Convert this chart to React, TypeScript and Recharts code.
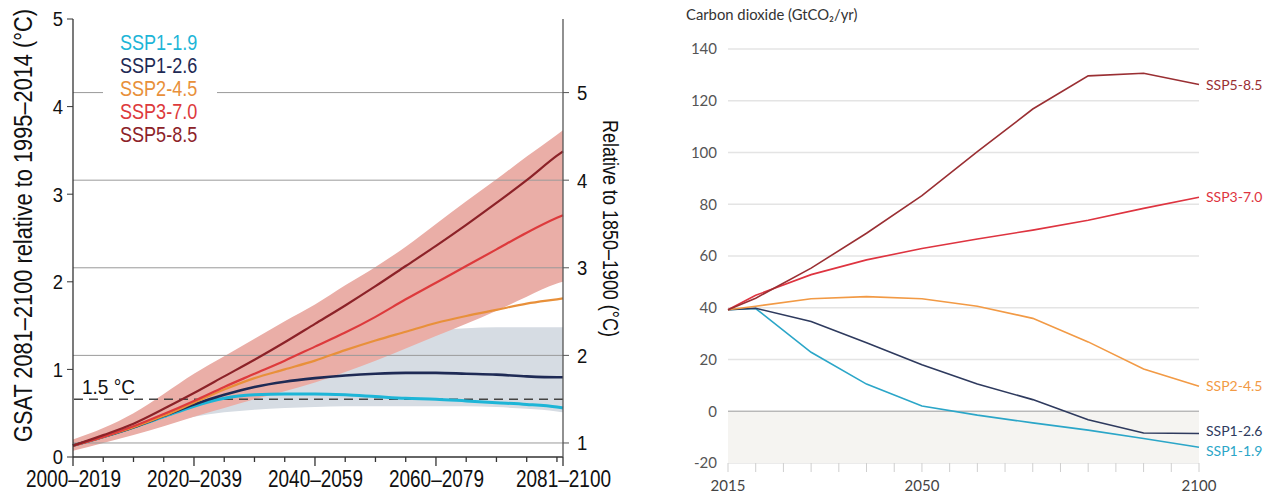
import React from 'react';
import {
  ComposedChart, LineChart, Line, Area, XAxis, YAxis, ReferenceLine,
  ReferenceArea, Legend, Label, LabelList, CartesianGrid,
} from 'recharts';

// ---- left panel: GSAT change (relative to 1995–2014) ----
const gsatYears = [2010, 2015, 2020, 2025, 2030, 2035, 2040, 2045, 2050, 2055, 2060, 2065, 2070, 2075, 2080, 2085, 2090, 2091];
const ssp119Gsat = [0.13, 0.23, 0.34, 0.46, 0.58, 0.67, 0.71, 0.72, 0.72, 0.71, 0.69, 0.67, 0.66, 0.64, 0.62, 0.6, 0.57, 0.56];
const ssp126Gsat = [0.13, 0.23, 0.34, 0.47, 0.6, 0.71, 0.8, 0.86, 0.9, 0.93, 0.95, 0.96, 0.96, 0.95, 0.94, 0.92, 0.91, 0.91];
const ssp245Gsat = [0.13, 0.23, 0.34, 0.47, 0.62, 0.77, 0.9, 1.0, 1.1, 1.22, 1.33, 1.43, 1.53, 1.61, 1.68, 1.75, 1.8, 1.81];
const ssp370Gsat = [0.13, 0.23, 0.35, 0.49, 0.64, 0.8, 0.95, 1.1, 1.26, 1.42, 1.6, 1.8, 1.99, 2.18, 2.37, 2.56, 2.73, 2.76];
const ssp585Gsat = [0.13, 0.25, 0.38, 0.55, 0.73, 0.92, 1.11, 1.31, 1.52, 1.73, 1.95, 2.18, 2.41, 2.65, 2.9, 3.16, 3.44, 3.49];
const ssp126Low = [0.1, 0.18, 0.27, 0.38, 0.46, 0.51, 0.54, 0.56, 0.57, 0.58, 0.58, 0.58, 0.58, 0.58, 0.57, 0.55, 0.52, 0.51];
const ssp126High = [0.17, 0.3, 0.45, 0.6, 0.75, 0.9, 1.03, 1.13, 1.22, 1.3, 1.36, 1.41, 1.45, 1.47, 1.48, 1.48, 1.48, 1.48];
const ssp370Low = [0.07, 0.16, 0.25, 0.35, 0.46, 0.56, 0.66, 0.75, 0.85, 0.97, 1.1, 1.24, 1.38, 1.52, 1.67, 1.83, 1.98, 2.0];
const ssp370High = [0.2, 0.33, 0.5, 0.72, 0.95, 1.15, 1.35, 1.55, 1.74, 1.96, 2.17, 2.4, 2.66, 2.92, 3.17, 3.43, 3.68, 3.73];

const gsatMinorTicks = [2010, 2015, 2020, 2025, 2030, 2035, 2040, 2045, 2050, 2055, 2060, 2065, 2070, 2075, 2080, 2085, 2090, 2091];
const gsatPeriodTicks = [2010, 2030, 2050, 2070, 2091];
const gsatPeriodLabels = ['2000–2019', '2020–2039', '2040–2059', '2060–2079', '2081–2100'];
const leftTicks = [0, 1, 2, 3, 4, 5];
const rightTicks = [1, 2, 3, 4, 5];

const scenarioNames = ['SSP1-1.9', 'SSP1-2.6', 'SSP2-4.5', 'SSP3-7.0', 'SSP5-8.5'];
const gsatColors = ['#1db5d7', '#1e2a55', '#e8903a', '#dd3a3c', '#8c2228'];

// ---- right panel: CO2 emissions ----
const co2Years = [2015, 2020, 2030, 2040, 2050, 2060, 2070, 2080, 2090, 2100];
const co2Ssp119 = [39.2, 39.7, 22.8, 10.5, 2.0, -1.5, -4.5, -7.3, -10.5, -13.9];
const co2Ssp126 = [39.2, 39.8, 34.7, 26.5, 18.0, 10.5, 4.5, -3.3, -8.4, -8.6];
const co2Ssp245 = [39.2, 40.6, 43.5, 44.3, 43.5, 40.6, 35.9, 26.8, 16.3, 9.7];
const co2Ssp370 = [39.2, 44.8, 52.8, 58.5, 62.9, 66.6, 70.0, 73.8, 78.4, 82.7];
const co2Ssp585 = [39.2, 43.7, 55.3, 68.8, 83.3, 100.3, 116.8, 129.6, 130.6, 126.3];
const co2Colors = ['#2ba6c8', '#2e3a5e', '#f29a45', '#de3440', '#9a2f33'];
const co2LabelNudge = [4, -2, 0, 0, 1];
const co2YTicks = [-20, 0, 20, 40, 60, 80, 100, 120, 140];
const co2XTicks = [2015, 2020, 2025, 2030, 2035, 2040, 2045, 2050, 2055, 2060, 2065, 2070, 2075, 2080, 2085, 2090, 2095, 2100];
const co2XLabels = [2015, 2050, 2100];

// no condensed face is installed, so the narrow look comes from textLength / scaleX
const sans = "'Liberation Sans', Arial, sans-serif";
const lato = "Lato, 'Noto Sans', sans-serif";

const gsatKeys = ['ssp119', 'ssp126', 'ssp245', 'ssp370', 'ssp585'];
const gsatSeries = [ssp119Gsat, ssp126Gsat, ssp245Gsat, ssp370Gsat, ssp585Gsat];
const gsatData = gsatYears.map((year, i) => {
  const row: any = { year, range126: [ssp126Low[i], ssp126High[i]], range370: [ssp370Low[i], ssp370High[i]] };
  gsatKeys.forEach((k, j) => { row[k] = gsatSeries[j][i]; });
  return row;
});

const co2Series = [co2Ssp119, co2Ssp126, co2Ssp245, co2Ssp370, co2Ssp585];
const co2Data = co2Years.map((year, i) => {
  const row: any = { year };
  gsatKeys.forEach((k, j) => { row[k] = co2Series[j][i]; });
  return row;
});

const GsatTick = (props: any) => {
  const { x, y, payload } = props;
  const idx = gsatPeriodTicks.indexOf(payload.value);
  const major = idx >= 0;
  return (
    <g>
      <line x1={x} x2={x} y1={y} y2={y + (major ? 9 : 5)} stroke="#333" strokeWidth={1.3} />
      {major && (
        <text x={x - 47} y={y + 30} textLength={95} lengthAdjust="spacingAndGlyphs" fontSize={23}
          fontFamily={sans} fill="#111">
          {gsatPeriodLabels[idx]}
        </text>
      )}
    </g>
  );
};

const GsatYTick = (props: any) => {
  const { x, y, payload, textAnchor } = props;
  return (
    <text x={x} y={y} dy="0.35em" textAnchor={textAnchor} fontSize={21} fontFamily={sans} fill="#111"
      transform={`translate(${x} 0) scale(0.88 1) translate(${-x} 0)`}>
      {payload.value}
    </text>
  );
};

const Co2Tick = (props: any) => {
  const { x, y, payload } = props;
  const show = co2XLabels.includes(payload.value);
  return (
    <g>
      <line x1={x} x2={x} y1={y} y2={y + 9} stroke="#cfcfcf" strokeWidth={1} />
      {show && (
        <text x={x} y={y + 28} textAnchor="middle" fontSize={15} fontFamily={lato} fill="#444">
          {payload.value}
        </text>
      )}
    </g>
  );
};

const GsatLegend = () => (
  <div style={{ background: '#fff', width: 114, height: 116, fontFamily: sans, fontSize: 22, lineHeight: '23px', textAlign: 'left' }}>
    <div style={{ paddingLeft: 17, paddingTop: 1, transform: 'scaleX(0.82)', transformOrigin: '17px 0' }}>
      {scenarioNames.map((name, i) => (
        <div key={name} style={{ color: gsatColors[i], whiteSpace: 'nowrap' }}>{name}</div>
      ))}
    </div>
  </div>
);

const GsatPanel = () => (
  <ComposedChart width={640} height={493} data={gsatData} margin={{ top: 19, right: 0, bottom: 0, left: 0 }}>
    <XAxis dataKey="year" type="number" domain={[2010, 2091]} ticks={gsatMinorTicks} interval={0}
      tick={<GsatTick />} tickLine={false} tickSize={0} tickMargin={0} height={36}
      axisLine={{ stroke: '#333', strokeWidth: 1.3 }} />
    <YAxis yAxisId="left" domain={[0, 5]} ticks={leftTicks} width={73} tickSize={6} tickMargin={4}
      axisLine={{ stroke: '#333', strokeWidth: 1.3 }} tickLine={{ stroke: '#333' }}
      tick={<GsatYTick />}>
      <Label content={(p: any) => {
        const vb = p.viewBox;
        const cx = vb.x + 23;
        const cy = vb.y + vb.height / 2 - 12;
        return (
          <text x={cx - 216} y={cy} dy="0.35em" textLength={433} lengthAdjust="spacingAndGlyphs" fontSize={26}
            fontFamily={sans} fill="#111" transform={`rotate(-90 ${cx} ${cy})`}>
            GSAT 2081–2100 relative to 1995–2014 (°C)
          </text>
        );
      }} />
    </YAxis>
    <YAxis yAxisId="right" orientation="right" domain={[0.84, 5.84]} ticks={rightTicks} allowDataOverflow
      width={77} tickSize={6} tickMargin={8} axisLine={{ stroke: '#555', strokeWidth: 1.3 }} tickLine={{ stroke: '#555' }}
      tick={<GsatYTick />}>
      <Label content={(p: any) => {
        const vb = p.viewBox;
        const cx = vb.x + 48;
        const cy = vb.y + vb.height / 2 - 10;
        return (
          <text x={cx - 108} y={cy} dy="0.35em" textLength={217} lengthAdjust="spacingAndGlyphs" fontSize={22}
            fontFamily={sans} fill="#111" transform={`rotate(90 ${cx} ${cy})`}>
            Relative to 1850–1900 (°C)
          </text>
        );
      }} />
    </YAxis>
    <Legend layout="horizontal" verticalAlign="middle" align="center" content={<GsatLegend />}
      wrapperStyle={{ top: 30, left: 103, width: 114 }} />
    <Area yAxisId="left" dataKey="range126" type="monotone" stroke="none" fill="#d6dce3" fillOpacity={1} isAnimationActive={false} legendType="none" />
    <Area yAxisId="left" dataKey="range370" type="monotone" stroke="none" fill="#eaaea7" fillOpacity={1} isAnimationActive={false} legendType="none" />
    {rightTicks.map((t) => (
      <ReferenceLine key={t} yAxisId="right" y={t} stroke="#9a9a9a" strokeWidth={1} />
    ))}
    <ReferenceLine yAxisId="right" y={1.5} stroke="#444" strokeWidth={1.6} strokeDasharray="9 6">
      <Label content={(p: any) => {
        const vb = p.viewBox;
        return (
          <text x={vb.x + 9} y={vb.y - 5} textLength={53} lengthAdjust="spacingAndGlyphs" fontSize={21}
            fontFamily={sans} fill="#111">1.5 °C</text>
        );
      }} />
    </ReferenceLine>
    {gsatKeys.map((k, i) => (
      <Line key={k} yAxisId="left" dataKey={k} name={scenarioNames[i]} type="monotone" dot={false}
        stroke={gsatColors[i]} strokeWidth={i === 0 ? 3 : i === 1 ? 2.6 : 2.2} isAnimationActive={false} />
    ))}
  </ComposedChart>
);

const Co2Panel = () => (
  <LineChart width={624} height={493} data={co2Data} margin={{ top: 49, right: 65, bottom: 0, left: 0 }}>
    <ReferenceArea y1={-20} y2={0} fill="#f5f4f1" fillOpacity={1} stroke="none" />
    <CartesianGrid vertical={false} stroke="#e4e4e4" strokeWidth={1.5} />
    <ReferenceLine y={0} stroke="#a6a6a6" strokeWidth={1.2} />
    <XAxis dataKey="year" type="number" domain={[2015, 2100]} ticks={co2XTicks} interval={0}
      tick={<Co2Tick />} tickLine={false} axisLine={false} tickSize={0} tickMargin={0} height={30} />
    <YAxis domain={[-20, 140]} ticks={co2YTicks} width={88} axisLine={false} tickLine={false}
      tickSize={0} tickMargin={11} tick={{ fontSize: 15, fontFamily: lato, fill: '#555' }} />
    {gsatKeys.map((k, i) => (
      <Line key={k} dataKey={k} type="linear" dot={false} stroke={co2Colors[i]} strokeWidth={1.6}
        isAnimationActive={false}>
        <LabelList dataKey={k} content={(p: any) => (
          p.index === co2Years.length - 1 ? (
            <text x={p.x + 7} y={p.y + co2LabelNudge[i]} dy="0.35em" fontSize={14} fontFamily={lato} fill={co2Colors[i]}>
              {scenarioNames[i]}
            </text>
          ) : null
        )} />
      </Line>
    ))}
  </LineChart>
);

export default function App() {
  return (
    <div style={{ position: 'absolute', left: 0, top: 0, width: 1264, height: 493, background: '#fff' }}>
      <div style={{ position: 'absolute', left: 0, top: 0 }}>
        <GsatPanel />
      </div>
      <div style={{ position: 'absolute', left: 640, top: 0 }}>
        <div style={{ position: 'absolute', left: 46, top: 5, fontFamily: lato, fontSize: 14.8, color: '#333', whiteSpace: 'nowrap' }}>
          Carbon dioxide (GtCO₂/yr)
        </div>
        <Co2Panel />
      </div>
    </div>
  );
}
